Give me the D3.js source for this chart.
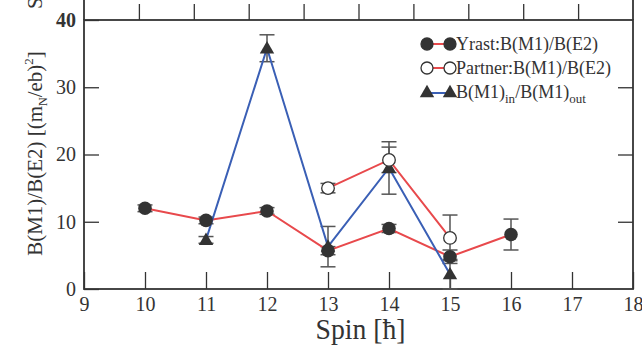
<!DOCTYPE html>
<html>
<head>
<meta charset="utf-8">
<script src="https://cdn.jsdelivr.net/npm/d3@7/dist/d3.min.js"></script>
<style>
  body { margin: 0; background: #fff; }
  svg { display: block; }
  text { font-family: "Liberation Serif", "DejaVu Serif", serif; fill: #333; }
</style>
</head>
<body>
<div id="chart"></div>
<script>
// Yrast band
const yrastSpins = [10, 11, 12, 13, 14, 15, 16];
const yrastVals = [12.0, 10.2, 11.6, 5.7, 9.0, 4.8, 8.1];
const yrastErr = [0.5, 0.5, 0.5, 0.6, 0.6, 1.0, 2.3];

// Partner band
const partnerSpins = [13, 14, 15];
const partnerVals = [15.0, 19.2, 7.6];
const partnerErr = [0.7, 1.9, 3.4];

// B(M1)in / B(M1)out
const ratioSpins = [11, 12, 13, 14, 15];
const ratioVals = [7.3, 35.8, 6.3, 18.0, 2.2];
const ratioErr = [0.5, 2.0, 3.0, 3.9, 2.2];

const xTickVals = [9, 10, 11, 12, 13, 14, 15, 16, 17, 18];
const yTickVals = [0, 10, 20, 30, 40];
const upperTickVals = [1, 2, 3, 4, 5, 6, 7, 8, 9]; // ticks of the panel above (cropped)

const width = 642, height = 351;
const margin = { left: 84, right: 9, top: 20, bottom: 62 };

const red = "#e8494c";
const blue = "#3a5fb5";
const ink = "#333";

const svg = d3.select("#chart").append("svg")
    .attr("width", width)
    .attr("height", height);

const x = d3.scaleLinear()
    .domain([9, 18])
    .range([margin.left, width - margin.right]);

const y = d3.scaleLinear()
    .domain([0, 40])
    .range([height - margin.bottom, margin.top]);

const xUpper = d3.scaleLinear()
    .domain([0, 10])
    .range([margin.left, width - margin.right]);

const zip = (s, v, e) => s.map((d, i) => ({ spin: d, val: v[i], err: e[i] }));
const yrast = zip(yrastSpins, yrastVals, yrastErr);
const partner = zip(partnerSpins, partnerVals, partnerErr);
const ratio = zip(ratioSpins, ratioVals, ratioErr);

// Remains of the panel above
svg.append("g")
    .attr("transform", `translate(0,${margin.top})`)
    .call(d3.axisTop(xUpper).tickValues(upperTickVals).tickSize(16).tickFormat(""))
    .call(g => g.select(".domain").remove())
    .selectAll("line").attr("stroke", ink).attr("stroke-width", 1.3);
svg.selectAll(".upperSide")
    .data([margin.left, width - margin.right])
    .enter()
    .append("line")
    .attr("x1", d => d).attr("x2", d => d)
    .attr("y1", 0).attr("y2", margin.top)
    .attr("stroke", ink).attr("stroke-width", 1.8);
svg.append("text")
    .attr("transform", `translate(42,9) rotate(-90)`)
    .style("font-size", "21px")
    .text("S");

// Axes (ticks pointing inward)
const xAxis = svg.append("g")
    .attr("transform", `translate(0,${y(0)})`)
    .call(d3.axisBottom(x).tickValues(xTickVals).tickSizeInner(-17).tickSizeOuter(0).tickPadding(8));
xAxis.selectAll("text").style("font-size", "20px").attr("fill", ink);

const yAxis = svg.append("g")
    .attr("transform", `translate(${margin.left},0)`)
    .call(d3.axisLeft(y).tickValues(yTickVals).tickSizeInner(-15).tickSizeOuter(0).tickPadding(8));
yAxis.selectAll("text").style("font-size", "20px").attr("fill", ink)
    .style("font-weight", d => d === 40 ? "bold" : null);

const yAxisRight = svg.append("g")
    .attr("transform", `translate(${width - margin.right},0)`)
    .call(d3.axisRight(y).tickValues([10, 20, 30]).tickSizeInner(-15).tickSizeOuter(0).tickFormat(""));

[xAxis, yAxis, yAxisRight].forEach(g => {
    g.select(".domain").remove();
    g.selectAll("line").attr("stroke", ink).attr("stroke-width", 1.3);
});

// Frame
svg.append("rect")
    .attr("x", x(9)).attr("y", y(40))
    .attr("width", x(18) - x(9)).attr("height", y(0) - y(40))
    .attr("fill", "none").attr("stroke", ink).attr("stroke-width", 1.8);

// Axis titles
const yTitle = svg.append("text")
    .attr("transform", `translate(42,${(y(0) + y(40)) / 2 - 1}) rotate(-90)`)
    .attr("text-anchor", "middle")
    .style("font-size", "21px");
yTitle.append("tspan").text("B(M1)/B(E2) [(m");
yTitle.append("tspan").attr("dy", 5).style("font-size", "12px").text("N");
yTitle.append("tspan").attr("dy", -5).text("/eb)");
yTitle.append("tspan").attr("dy", -9).style("font-size", "13px").text("2");
yTitle.append("tspan").attr("dy", 9).text("]");

svg.append("text")
    .attr("x", (x(9) + x(18)) / 2 + 2)
    .attr("y", 339)
    .attr("text-anchor", "middle")
    .attr("textLength", 90)
    .attr("lengthAdjust", "spacingAndGlyphs")
    .style("font-size", "29px")
    .text("Spin [ħ]");

// Error bars
function errorBars(cls, data) {
    const g = svg.append("g").attr("class", cls);
    g.selectAll("line.bar").data(data).enter().append("line")
        .attr("class", "bar")
        .attr("x1", d => x(d.spin)).attr("x2", d => x(d.spin))
        .attr("y1", d => y(d.val - d.err)).attr("y2", d => y(d.val + d.err))
        .attr("stroke", "#555").attr("stroke-width", 1.5);
    [-1, 1].forEach(s => {
        g.selectAll(`line.cap${s}`).data(data).enter().append("line")
            .attr("x1", d => x(d.spin) - 7.5).attr("x2", d => x(d.spin) + 7.5)
            .attr("y1", d => y(d.val + s * d.err)).attr("y2", d => y(d.val + s * d.err))
            .attr("stroke", "#555").attr("stroke-width", 1.5);
    });
}
errorBars("ratioErr", ratio);
errorBars("partnerErr", partner);
errorBars("yrastErr", yrast);

// Lines
const line = d3.line().x(d => x(d.spin)).y(d => y(d.val));
svg.append("path").datum(yrast).attr("d", line)
    .attr("fill", "none").attr("stroke", red).attr("stroke-width", 2);
svg.append("path").datum(partner).attr("d", line)
    .attr("fill", "none").attr("stroke", red).attr("stroke-width", 2);
svg.append("path").datum(ratio).attr("d", line)
    .attr("fill", "none").attr("stroke", blue).attr("stroke-width", 2);

// Markers
const tri = d3.symbol(d3.symbolTriangle).size(90);
svg.selectAll(".triangles").data(ratio).enter().append("path")
    .attr("class", "triangles")
    .attr("transform", d => `translate(${x(d.spin)},${y(d.val) + 1})`)
    .attr("d", tri).attr("fill", ink);
svg.selectAll(".partnerPts").data(partner).enter().append("circle")
    .attr("class", "partnerPts")
    .attr("cx", d => x(d.spin)).attr("cy", d => y(d.val)).attr("r", 6.3)
    .attr("fill", "#fff").attr("stroke", ink).attr("stroke-width", 1.3);
svg.selectAll(".yrastPts").data(yrast).enter().append("circle")
    .attr("class", "yrastPts")
    .attr("cx", d => x(d.spin)).attr("cy", d => y(d.val)).attr("r", 6.8)
    .attr("fill", ink);

// Legend
const legendItems = [
    { kind: "filled", colour: red, y: 44 },
    { kind: "open", colour: red, y: 68 },
    { kind: "tri", colour: blue, y: 93 }
];
const legend = svg.append("g");
legendItems.forEach(it => {
    legend.append("line")
        .attr("x1", 427).attr("x2", 450).attr("y1", it.y).attr("y2", it.y)
        .attr("stroke", it.colour).attr("stroke-width", 2);
    [427, 450].forEach(cx => {
        if (it.kind === "tri") {
            legend.append("path").attr("transform", `translate(${cx},${it.y})`)
                .attr("d", tri).attr("fill", ink);
        } else {
            legend.append("circle").attr("cx", cx).attr("cy", it.y).attr("r", 6)
                .attr("fill", it.kind === "filled" ? ink : "#fff")
                .attr("stroke", ink).attr("stroke-width", 1.3);
        }
    });
});
legend.append("text").attr("x", 456).attr("y", 50).style("font-size", "18px")
    .text("Yrast:B(M1)/B(E2)");
legend.append("text").attr("x", 456).attr("y", 74).style("font-size", "18px")
    .text("Partner:B(M1)/B(E2)");
const lt = legend.append("text").attr("x", 456).attr("y", 98).style("font-size", "18px");
lt.append("tspan").text("B(M1)");
lt.append("tspan").attr("dy", 5).style("font-size", "13px").text("in");
lt.append("tspan").attr("dy", -5).text("/B(M1)");
lt.append("tspan").attr("dy", 5).style("font-size", "13px").text("out");
</script>
</body>
</html>
